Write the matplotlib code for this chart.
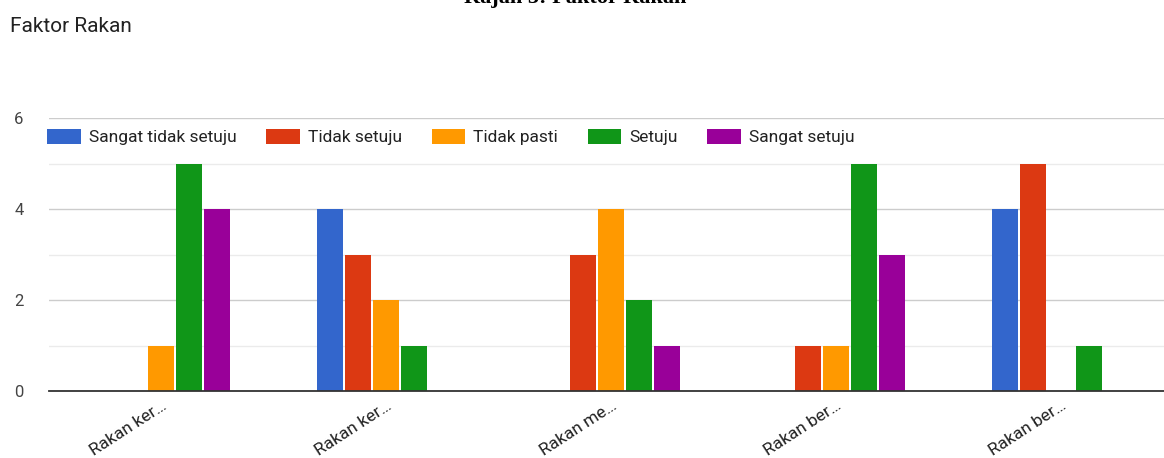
import matplotlib.pyplot as plt
import numpy as np

# data
categories = ["Rakan ker…", "Rakan ker…", "Rakan me…", "Rakan ber…", "Rakan ber…"]
series_names = ["Sangat tidak setuju", "Tidak setuju", "Tidak pasti", "Setuju", "Sangat setuju"]
sangat_tidak_setuju = [0, 4, 0, 0, 4]
tidak_setuju = [0, 3, 3, 1, 5]
tidak_pasti = [1, 2, 4, 1, 0]
setuju = [5, 1, 2, 5, 1]
sangat_setuju = [4, 0, 1, 3, 0]

colors = ["#3366cc", "#dc3912", "#ff9900", "#109618", "#990099"]
all_series = [sangat_tidak_setuju, tidak_setuju, tidak_pasti, setuju, sangat_setuju]

plt.rcParams['font.family'] = ['Roboto', 'DejaVu Sans']

fig = plt.figure(figsize=(11.64, 4.58), dpi=100)
# plot area (extends a bit past the right edge, as in the cropped original)
ax = fig.add_axes([48.5 / 1164, 1 - 391 / 458, 1125 / 1164, 273 / 458])

x = np.arange(len(categories))
step = 0.1244
width = 0.1156
for i, (name, vals) in enumerate(zip(series_names, all_series)):
    ax.bar(x + (i - 2) * step, vals, width, color=colors[i], label=name, zorder=3)

ax.set_xlim(-0.5, 4.5)
ax.set_ylim(0, 6)
ax.set_yticks([0, 2, 4, 6])
ax.set_yticks([1, 3, 5], minor=True)
ax.grid(axis='y', which='major', color='#cccccc', linewidth=1, zorder=0)
ax.grid(axis='y', which='minor', color='#ebebeb', linewidth=1, zorder=0)
ax.tick_params(axis='y', which='both', length=0, pad=18, labelsize=12, labelcolor='#444444')
ax.tick_params(axis='x', length=0, pad=5, labelsize=12.5, labelcolor='#222222')
ax.set_xticks(x)
ax.set_xticklabels(categories, rotation=33, ha='right', rotation_mode='anchor')
for s in ['top', 'right', 'left']:
    ax.spines[s].set_visible(False)
ax.spines['bottom'].set_color('#333333')
ax.spines['bottom'].set_linewidth(1.3)
ax.spines['bottom'].set_zorder(4)

ax.legend(loc='upper left', bbox_to_anchor=(-0.001, 0.96), ncol=5, frameon=False,
          fontsize=12.5, handlelength=1.95, handleheight=0.92, columnspacing=1.7,
          handletextpad=0.45, borderaxespad=0, borderpad=0, labelcolor='#222222')

fig.text(10 / 1164, 1 - 26 / 458, "Faktor Rakan", fontsize=15, color='#222222',
         va='center', ha='left')
# caption partly cut off at the top of the original image
fig.text(575 / 1164, 1 - 2.5 / 458, "Rajah 5: Faktor Rakan", fontsize=16,
         fontweight='bold', family='Liberation Serif', ha='center', va='baseline')

fig.savefig("out.png", dpi=100)
